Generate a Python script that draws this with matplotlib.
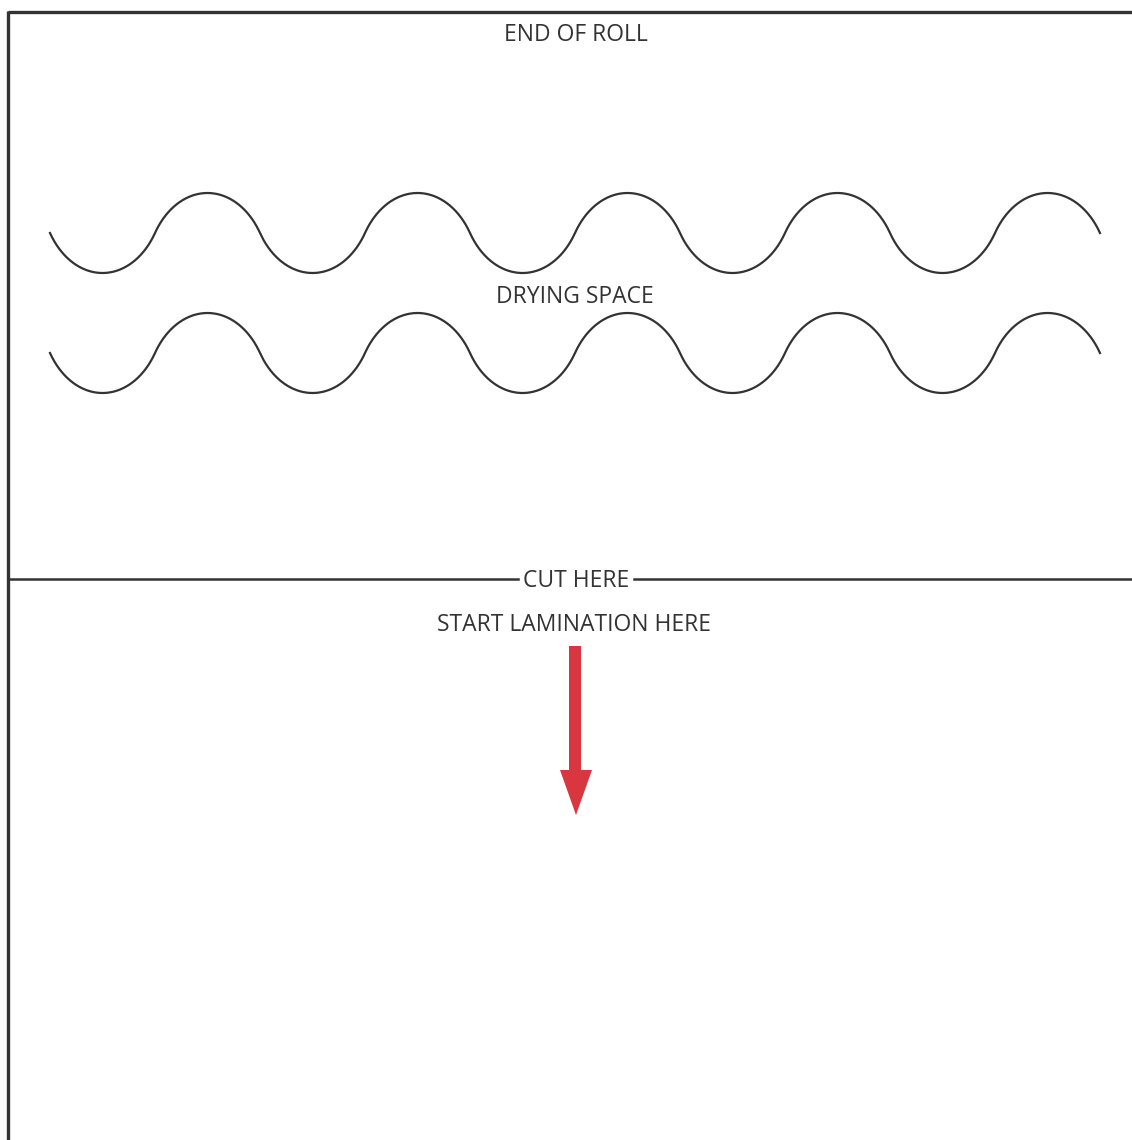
import numpy as np
import matplotlib.pyplot as plt
from matplotlib.patches import Polygon

# labels
labels = ["END OF ROLL", "DRYING SPACE", "CUT HERE", "START LAMINATION HERE"]

# wave rows: centre line, start, end, number of half waves, amplitude
wave_centres = [233, 353]
wave_start, wave_end = 50, 1100
half_waves = 10
amplitude = 40

W, H = 1132, 1140
ink = "#333333"
red = "#d8373f"

fig = plt.figure(figsize=(W / 100, H / 100), dpi=100)
ax = fig.add_axes([0, 0, 1, 1])
ax.set_xlim(0, W)
ax.set_ylim(H, 0)
ax.axis("off")

font = dict(family="Open Sans", fontsize=16.5, color=ink, ha="center", va="center")

# frame: top and left edges
ax.plot([8, W + 5], [12, 12], color=ink, lw=2.4, solid_capstyle="butt")
ax.plot([8, 8], [11, H + 5], color=ink, lw=2.4, solid_capstyle="butt")

ax.text(576, 35, labels[0], **font)

# drying waves: alternating elliptical arcs, first one dips down
x = np.linspace(wave_start, wave_end, 3000)
half = (wave_end - wave_start) / half_waves
k = np.minimum(((x - wave_start) // half).astype(int), half_waves - 1)
u = (x - wave_start - k * half) / half * 2 - 1
c = 0.85
arc = (np.sqrt(1 - (u * c) ** 2) - np.sqrt(1 - c ** 2)) / (1 - np.sqrt(1 - c ** 2))
sign = np.where(k % 2 == 0, 1, -1)
for yc in wave_centres:
    ax.plot(x, yc + amplitude * sign * arc, color=ink, lw=1.6)

ax.text(575, 297, labels[1], **font)

# cut line with gap for the label
ax.plot([8, 518], [579, 579], color=ink, lw=1.8)
ax.plot([634, W + 5], [579, 579], color=ink, lw=1.8)
ax.text(576, 581, labels[2], **font)

ax.text(574, 625, labels[3], **font)

# red arrow
arrow = Polygon(
    [(569, 646), (581, 646), (581, 770), (592, 770),
     (576, 815), (560, 770), (569, 770)],
    closed=True, facecolor=red, edgecolor="none",
)
ax.add_patch(arrow)

fig.savefig("out.png", dpi=100)
